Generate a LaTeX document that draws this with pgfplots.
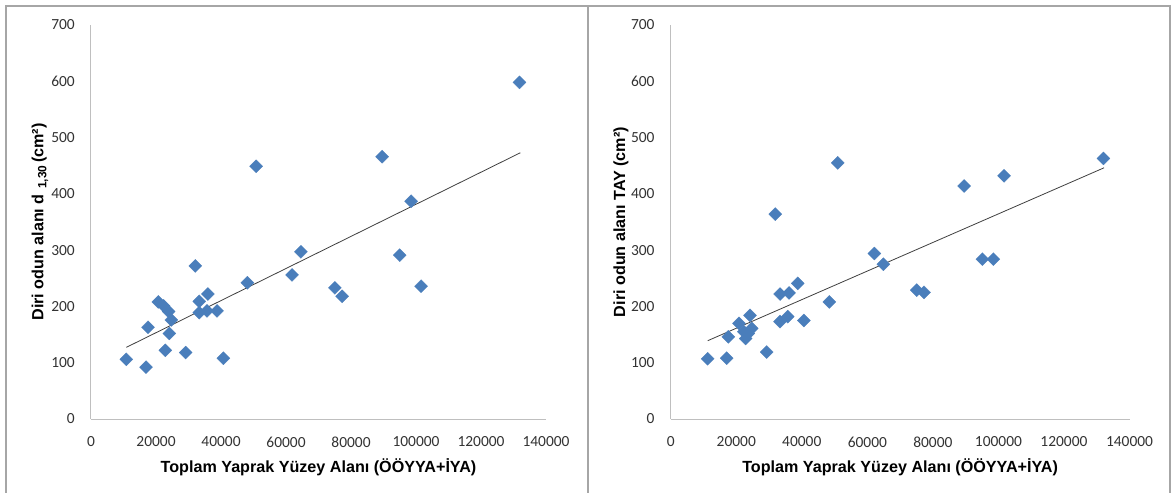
\documentclass[border=0pt]{standalone}
\usepackage{pgfplots}
\pgfplotsset{compat=1.18}
\usepackage{fontspec}
\setmainfont{Carlito}
\newfontfamily\lab{Liberation Sans}
\definecolor{mk}{HTML}{4A7EBB}
\definecolor{fr}{HTML}{A6A6A6}
\definecolor{axc}{HTML}{BFBFBF}

\pgfplotstableread{
x y
10870 106
16930 92
17540 163
20710 208
22350 201
23880 191
24720 176
24100 152
22870 122
29120 118
32100 272
33330 209
35950 222
33330 189
35700 192
38780 192
40720 108
50790 449
48110 242
61870 256
64580 297
75040 233
77260 218
89570 466
98500 387
94990 291
101570 236
131830 598
}\leftdata

\pgfplotstableread{
x y
11290 107
17090 108
17580 146
20840 170
24200 184
24720 161
23680 152
22890 143
22350 155
29300 119
31920 364
33370 222
36120 224
38760 241
33370 173
35710 182
40620 175
48400 208
50970 455
62140 294
64890 275
75080 229
77310 225
89520 414
101730 432
95100 284
98460 284
132030 463
}\rightdata

\pgfplotsset{
  myax/.style={
    scale only axis, height=394bp,
    xmin=0, xmax=140000, ymin=0, ymax=700,
    xtick={0,20000,...,140000}, ytick={0,100,...,700},
    scaled x ticks=false, scaled y ticks=false,
    axis lines=left,
    axis line style={-, draw=axc, line width=1bp},
    major tick length=0pt,
    tick label style={font=\fontsize{15.5}{18}\selectfont, text=black!80, inner sep=0pt},
    /pgf/number format/.cd, fixed, precision=0, 1000 sep={}, assume math mode=true, /pgfplots/.cd,
    xticklabel style={anchor=north, yshift=-17.5bp},
    yticklabel style={anchor=east, xshift=-16bp},
    xlabel style={at={(axis description cs:0.5,0)}, anchor=base, yshift=-53.7bp,
      font=\lab\bfseries\fontsize{16.2}{19}\selectfont},
    ylabel style={anchor=base,
      font=\lab\bfseries\fontsize{16.2}{19}\selectfont},
    clip=false,
  },
  dots/.style={only marks, mark=square*, mark size=4.6bp,
    mark options={rotate=45, fill=mk, draw=mk, line width=0.3bp}},
  trend/.style={no marks, draw=black!75, line width=0.8bp},
}

\begin{document}
\begin{tikzpicture}
\useasboundingbox (0,0) rectangle (1171bp,493bp);
\fill[white] (0,0) rectangle (1171bp,493bp);
\draw[fr, line width=2bp] (6bp,0) -- (6bp,487bp) -- (1169.8bp,487bp) -- (1169.8bp,0);
\draw[fr, line width=2.5bp] (588bp,0) -- (588bp,487bp);

\begin{axis}[myax, width=455bp, at={(91bp,74bp)}, anchor=south west,
  xlabel={Toplam Yaprak Yüzey Alanı (ÖÖYYA+İYA)},
  ylabel={Diri odun alanı d\,\,{\fontsize{12}{13}\selectfont\raisebox{-3bp}{1,30}}\,(cm²)},
  ylabel style={at={(axis description cs:-0.1048,0.5)}}]
\addplot[dots] table {\leftdata};
\addplot[trend] coordinates {(10870,127.3) (132100,473)};
\end{axis}

\begin{axis}[myax, width=458.8bp, at={(670.7bp,74bp)}, anchor=south west,
  xlabel={Toplam Yaprak Yüzey Alanı (ÖÖYYA+İYA)},
  ylabel={Diri odun alanı TAY (cm²)},
  ylabel style={at={(axis description cs:-0.0996,0.5)}}]
\addplot[dots] table {\rightdata};
\addplot[trend] coordinates {(11290,139.1) (132230,446.3)};
\end{axis}
\end{tikzpicture}
\end{document}
